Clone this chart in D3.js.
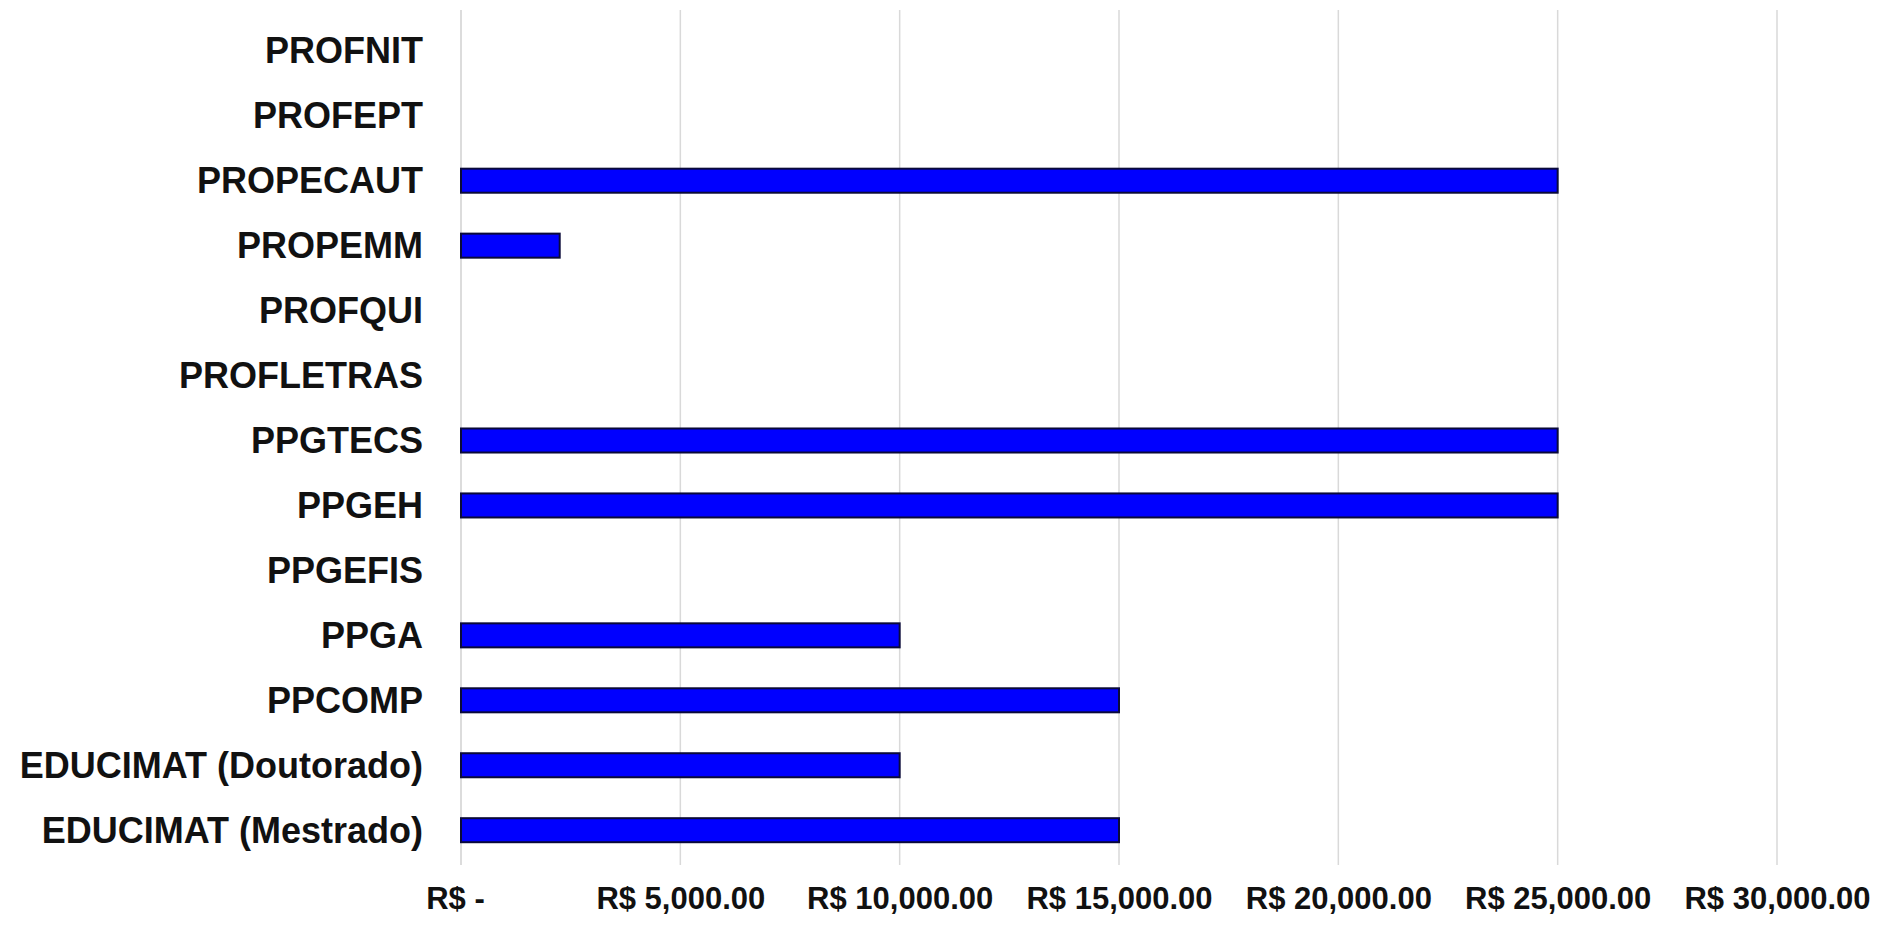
<!DOCTYPE html>
<html><head><meta charset="utf-8">
<script src="https://cdn.jsdelivr.net/npm/d3@7"></script>
<style>body{margin:0;background:#fff}svg{display:block}</style>
</head><body>
<script>
const categories = ["PROFNIT","PROFEPT","PROPECAUT","PROPEMM","PROFQUI","PROFLETRAS","PPGTECS","PPGEH","PPGEFIS","PPGA","PPCOMP","EDUCIMAT (Doutorado)","EDUCIMAT (Mestrado)"];
const values = [0,0,25000,2250,0,0,25000,25000,0,10000,15000,10000,15000];
const tickValues = [0,5000,10000,15000,20000,25000,30000];
const tickLabels = ["R$ -","R$ 5,000.00","R$ 10,000.00","R$ 15,000.00","R$ 20,000.00","R$ 25,000.00","R$ 30,000.00"];

const W=1883,H=927;
const svg=d3.select("body").append("svg").attr("width",W).attr("height",H);
const x=d3.scaleLinear().domain([0,30000]).range([461,1777]);
const y=d3.scaleBand().domain(categories).range([18,863]).paddingInner(0.63).paddingOuter(0.32);
const font="'Liberation Sans', Arial, sans-serif";

// gridlines
svg.append("g").selectAll("line").data(tickValues).join("line")
  .attr("x1",d=>x(d)).attr("x2",d=>x(d)).attr("y1",10).attr("y2",865)
  .attr("stroke",d=>d===0?"#d0d0d0":"#d9d9d9").attr("stroke-width",1.5);

// bars
svg.append("g").selectAll("rect").data(categories).join("rect")
  .attr("x",x(0)).attr("y",d=>y(d))
  .attr("width",(d,i)=>x(values[i])-x(0)).attr("height",y.bandwidth())
  .attr("fill","#0000ff").attr("stroke","#0a0a3a").attr("stroke-width",2)
  .style("display",(d,i)=>values[i]>0?null:"none");

// category axis
const yAxis=d3.axisLeft(y).tickSize(0).tickPadding(0);
const gy=svg.append("g").attr("transform","translate(423,0)").call(yAxis);
gy.select(".domain").remove();
gy.selectAll("text").attr("font-family",font).attr("font-weight","bold").attr("font-size",36).attr("fill","#111").attr("dy","0.35em");

// value axis
const xAxis=d3.axisBottom(x).tickValues(tickValues).tickFormat((d,i)=>tickLabels[i]).tickSize(0).tickPadding(0);
const gx=svg.append("g").attr("transform","translate(0,898)").call(xAxis);
gx.select(".domain").remove();
gx.selectAll("text").attr("font-family",font).attr("font-weight","bold").attr("font-size",31).attr("fill","#111").attr("dy","0.35em")
  .attr("dx",(d,i)=>i===0?-6:0);
</script>
</body></html>
